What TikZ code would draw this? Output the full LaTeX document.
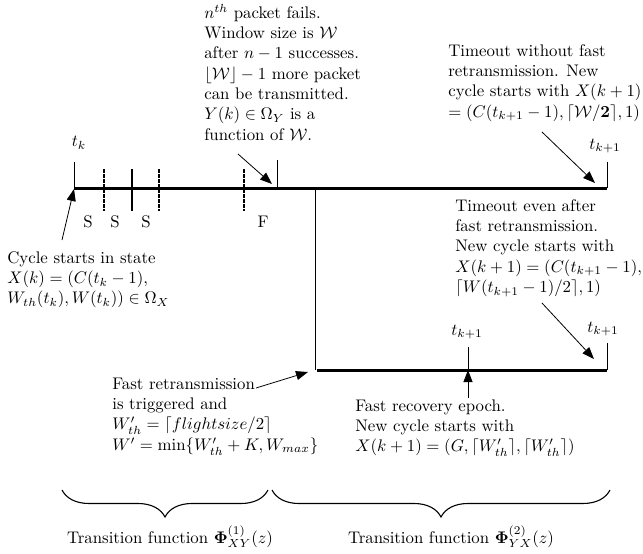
\RequirePackage{fix-cm}
\documentclass[tikz,border=0pt]{standalone}
\usepackage{amsmath,amssymb}
\usetikzlibrary{arrows.meta,decorations.pathreplacing}
\newcommand{\tstrut}{\rule{0pt}{9.5pt}}
\begin{document}
\begin{tikzpicture}[x=1pt,y=-1pt,
  every node/.style={font=\fontsize{10}{12.1}\selectfont, inner sep=0pt, scale=1.68, transform shape},
  txt/.style={align=left, anchor=north west},
  thickline/.style={line width=3pt},
  thinline/.style={line width=1pt},
  dtick/.style={line width=1.6pt, dash pattern=on 4pt off 1pt},
  stick/.style={line width=1.8pt},
  arr/.style={line width=0.8pt, -{Triangle[length=12pt,width=9pt]}},
  brc/.style={line width=1.1pt, decorate, decoration={brace, mirror, amplitude=27pt}}]
\useasboundingbox (0,0) rectangle (643,554);

% time axis points
\coordinate (a0) at (74,188);
\coordinate (a1) at (607,188);
\coordinate (a0t) at (74,162);
\coordinate (a1t) at (607,162);
\coordinate (ft) at (277,160);
\coordinate (fb) at (277,188);
\coordinate (v0) at (315,188);
\coordinate (v1) at (315,370);
\coordinate (b0) at (317,370);
\coordinate (b1) at (607,370);
\coordinate (b1t) at (607,343);
\coordinate (mt) at (468,347);
\coordinate (mb) at (468,370);

\draw[thickline] (a0) -- (a1);
\draw[thinline] (a0t) -- (a0);
\draw[thinline] (a1t) -- (a1);
\draw[thinline] (ft) -- (fb);
\draw[line width=0.8pt] (v0) -- (v1);
\draw[thickline] (b0) -- (b1);
\draw[thinline] (b1t) -- (b1);
\draw[thinline] (mt) -- (mb);

% packet ticks
\coordinate (s1t) at (104,169); \coordinate (s1b) at (104,211);
\coordinate (s2t) at (132,169); \coordinate (s2b) at (132,211);
\coordinate (s3t) at (159,169); \coordinate (s3b) at (159,211);
\coordinate (f1t) at (244,169); \coordinate (f1b) at (244,211);
\draw[dtick] (s1t) -- (s1b);
\draw[stick] (s2t) -- (s2b);
\draw[dtick] (s3t) -- (s3b);
\draw[dtick] (f1t) -- (f1b);

\node (S1) at (88,222) {S};
\node (S2) at (115,222) {S};
\node (S3) at (146,222) {S};
\node (F) at (263,222) {F};

% time labels
\node (tk) at (79,143) {$t_k$};
\node (tk1a) at (605,146) {$t_{k+1}$};
\node (tk1b) at (467,332) {$t_{k+1}$};
\node (tk1c) at (603,329) {$t_{k+1}$};

% text blocks
\node[txt] (B1) at (204,2) {\tstrut$n^{th}$ packet fails.\\ Window size is $\mathcal{W}$\\ after $n-1$ successes.\\ $\lfloor\mathcal{W}\rfloor-1$ more packet\\ can be transmitted.\\ $Y(k)\in\Omega_Y$ is a\\ function of $\mathcal{W}$.};
\node[txt] (B2) at (448,40) {\tstrut Timeout without fast\\ retransmission. New\\ cycle starts with $X(k+1)$\\ $=(C(t_{k+1}-1),\lceil\mathcal{W}/\mathbf{2}\rceil,1)$};
\node[txt] (B3) at (7,247) {\tstrut Cycle starts in state\\ $X(k)=(C(t_k-1),$\\ $W_{th}(t_k),W(t_k))\in\Omega_X$};
\node[txt] (B4) at (455,195) {\tstrut Timeout even after\\ fast retransmission.\\ New cycle starts with\\ $X(k+1)=(C(t_{k+1}-1),$\\ $\lceil W(t_{k+1}-1)/2\rceil,1)$};
\node[txt] (B5) at (112,373) {\tstrut Fast retransmission\\ is triggered and\\ $W'_{th}=\lceil flightsize/2\rceil$\\ $W'=\min\{W'_{th}+K,W_{max}\}$};
\node[txt] (B6) at (355,395) {\tstrut Fast recovery epoch.\\ New cycle starts with\\ $X(k+1)=(G,\lceil W'_{th}\rceil,\lceil W'_{th}\rceil)$};

% arrows
\coordinate (p1s) at (238,154); \coordinate (p1e) at (272,184);
\coordinate (p2s) at (542,132); \coordinate (p2e) at (595,183);
\coordinate (p3s) at (62,240);  \coordinate (p3e) at (74,189);
\coordinate (p4s) at (542,303); \coordinate (p4e) at (594,359);
\coordinate (p5s) at (256,388); \coordinate (p5e) at (308,372);
\coordinate (p6s) at (468,398); \coordinate (p6e) at (468,370);
\draw[arr] (p1s) -- (p1e);
\draw[arr] (p2s) -- (p2e);
\draw[arr] (p3s) -- (p3e);
\draw[arr] (p4s) -- (p4e);
\draw[arr] (p5s) -- (p5e);
\draw[arr] (p6s) -- (p6e);

% braces
\coordinate (br1a) at (62,490); \coordinate (br1b) at (268,490);
\coordinate (br2a) at (272,490); \coordinate (br2b) at (610,490);
\draw[brc] (br1a) -- (br1b);
\draw[brc] (br2a) -- (br2b);
\node[anchor=base] (T1) at (170,543) {Transition function $\mathbf{\Phi}^{(1)}_{XY}(z)$};
\node[anchor=base] (T2) at (451,543) {Transition function $\mathbf{\Phi}^{(2)}_{YX}(z)$};
\end{tikzpicture}
\end{document}
